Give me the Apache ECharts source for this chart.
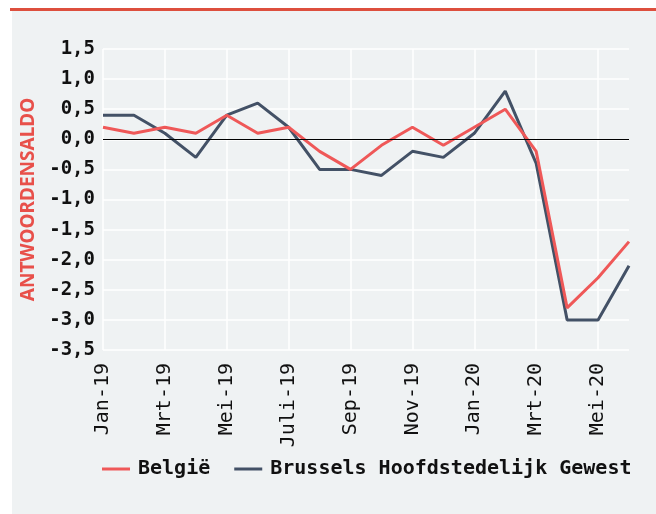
<!DOCTYPE html>
<html>
<head>
<meta charset="utf-8">
<script src="https://cdn.jsdelivr.net/npm/echarts@6/dist/echarts.min.js"></script>
<style>
  html, body { margin: 0; padding: 0; background: #ffffff; }
  #chart { width: 656px; height: 514px; }
</style>
</head>
<body>
<div id="chart"></div>
<script>
const months = ['Jan-19', 'Feb-19', 'Mrt-19', 'Apr-19', 'Mei-19', 'Jun-19', 'Juli-19', 'Aug-19', 'Sep-19',
  'Okt-19', 'Nov-19', 'Dec-19', 'Jan-20', 'Feb-20', 'Mrt-20', 'Apr-20', 'Mei-20', 'Jun-20']
const belgie = [0.2, 0.1, 0.2, 0.1, 0.4, 0.1, 0.2, -0.2, -0.5, -0.1, 0.2, -0.1, 0.2, 0.5, -0.2, -2.8, -2.3, -1.7]
const brussel = [0.4, 0.4, 0.1, -0.3, 0.4, 0.6, 0.2, -0.5, -0.5, -0.6, -0.2, -0.3, 0.1, 0.8, -0.4, -3.0, -3.0, -2.1]

const chart = echarts.init(document.getElementById('chart'))
const mono = 'DejaVu Sans Mono'

const option = {
  animation: false,
  graphic: [
    { type: 'rect', z: -10, shape: { x: 12, y: 11, width: 644, height: 503 }, style: { fill: '#eff2f3' } },
    { type: 'rect', z: -9, shape: { x: 10, y: 8, width: 646, height: 3 }, style: { fill: '#dd4f3d' } }
  ],
  grid: { left: 103, right: 27, top: 49, bottom: 164 },
  legend: {
    left: 97,
    top: 454,
    itemGap: 24,
    itemWidth: 28,
    itemHeight: 3,
    icon: 'rect',
    textStyle: {
      fontFamily: mono,
      fontWeight: 'bold',
      fontSize: 20,
      color: '#111',
      padding: [0, 0, 0, 3]
    },
    data: ['België', 'Brussels Hoofdstedelijk Gewest']
  },
  xAxis: {
    type: 'category',
    data: months,
    boundaryGap: false,
    axisLine: { show: false },
    axisTick: { show: false },
    axisLabel: {
      interval: 1,
      rotate: 90,
      margin: 13,
      fontFamily: mono,
      fontSize: 20,
      color: '#111'
    },
    splitLine: { show: true, lineStyle: { color: '#ffffff', width: 1.5 } }
  },
  yAxis: {
    type: 'value',
    min: -3.5,
    max: 1.5,
    interval: 0.5,
    name: 'ANTWOORDENSALDO',
    nameLocation: 'middle',
    nameGap: 57,
    nameTextStyle: { fontFamily: 'Noto Sans', fontWeight: 'bold', fontSize: 19, color: '#e8504a' },
    axisLine: { show: false },
    axisTick: { show: false },
    axisLabel: {
      margin: 8,
      fontFamily: mono,
      fontWeight: 'bold',
      fontSize: 19,
      color: '#111',
      formatter: v => v.toFixed(1).replace('.', ',')
    },
    splitLine: { show: true, lineStyle: { color: '#ffffff', width: 1.5 } }
  },
  series: [
    {
      name: 'België',
      type: 'line',
      data: belgie,
      symbol: 'none',
      lineStyle: { color: '#ef5858', width: 3 },
      itemStyle: { color: '#ef5858' },
      z: 3,
      markLine: {
        silent: true,
        symbol: 'none',
        label: { show: false },
        lineStyle: { color: '#000', width: 1, type: 'solid' },
        data: [{ yAxis: 0 }]
      }
    },
    {
      name: 'Brussels Hoofdstedelijk Gewest',
      type: 'line',
      data: brussel,
      symbol: 'none',
      lineStyle: { color: '#435166', width: 3 },
      itemStyle: { color: '#435166' },
      z: 2
    }
  ]
}

chart.setOption(option)
window.addEventListener('resize', () => chart.resize())
</script>
</body>
</html>
